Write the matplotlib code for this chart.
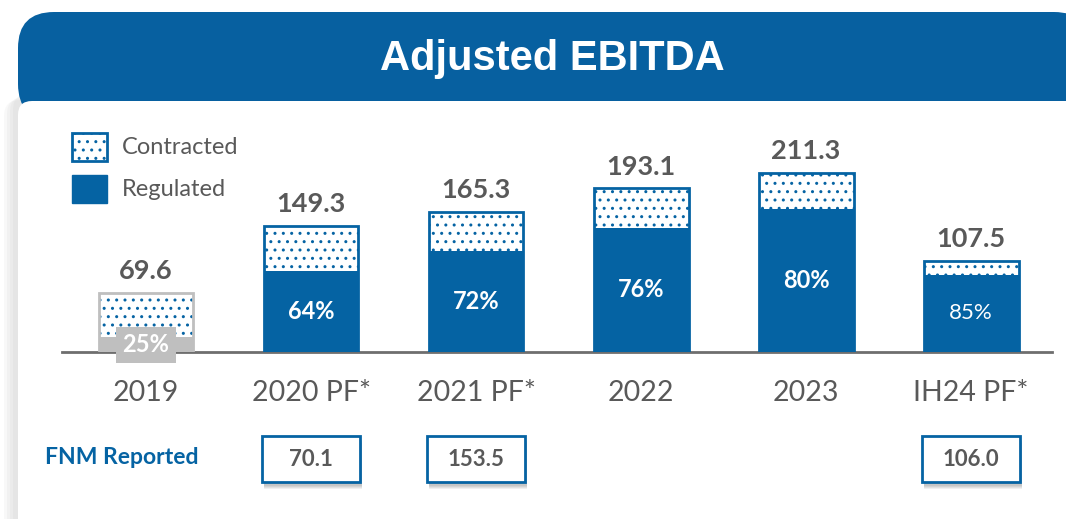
import matplotlib
matplotlib.use("Agg")
import matplotlib.pyplot as plt
from matplotlib.patches import FancyBboxPatch, Rectangle
import matplotlib.transforms as mtransforms

categories = ["2019", "2020 PF*", "2021 PF*", "2022", "2023", "IH24 PF*"]
totals = [69.6, 149.3, 165.3, 193.1, 211.3, 107.5]
regulated_pct = [25, 64, 72, 76, 80, 85]
fnm_reported = {1: "70.1", 2: "153.5", 5: "106.0"}

BLUE = "#0563A3"
HEAD = "#0760A0"
GRAY_TXT = "#595959"
LGRAY = "#BFBFBF"
FONT = "Lato"

W, H = 1066, 519
fig = plt.figure(figsize=(W / 100, H / 100), dpi=100)
fig.patch.set_facecolor("white")
PXT = mtransforms.Affine2D().scale(1 / W, 1 / H) + fig.transFigure


def px(x, y):
    return x / W, 1 - y / H


def rbox(x0, y0, x1, y1, r, **kw):
    p = FancyBboxPatch((x0, H - y1), x1 - x0, y1 - y0,
                       boxstyle=f"round,pad=0,rounding_size={r}",
                       transform=PXT, **kw)
    fig.patches.append(p)
    return p


# card shadow
for i in range(4):
    rbox(4 + i * 3, 100 - i * 2, 1090, 535, 16, facecolor="#808080", edgecolor="none", alpha=0.05, zorder=0)
# header
rbox(18, 12, 1090, 120, 36, facecolor=HEAD, edgecolor="none", zorder=1)
# white card
rbox(18, 101, 1090, 535, 14, facecolor="white", edgecolor="none", zorder=2)

fig.text(*px(552, 59), "Adjusted EBITDA", color="white", fontsize=30, fontweight="bold",
         family="Liberation Sans", ha="center", va="center", zorder=3)

# chart axes
scale = 0.847  # px per unit
x_left, x_right = 62, 1052
base_y = 352
top_y = 110
ax = fig.add_axes([x_left / W, 1 - base_y / H, (x_right - x_left) / W, (base_y - top_y) / H])
ax.set_zorder(5)
ax.patch.set_visible(False)
ax.set_xlim(-0.509, 5.49)
ax.set_ylim(0, (base_y - top_y) / scale)
for s in ["top", "right", "left"]:
    ax.spines[s].set_visible(False)
ax.spines["bottom"].set_color("#6E6E6E")
ax.spines["bottom"].set_linewidth(2)
ax.spines["bottom"].set_zorder(1)
ax.set_yticks([])
ax.set_xticks(range(len(categories)))
ax.set_xticklabels(categories, fontsize=20.5, color=GRAY_TXT, family=FONT)
ax.tick_params(axis="x", length=0, pad=20)

bw = 0.575
for i, (tot, pct) in enumerate(zip(totals, regulated_pct)):
    reg = tot * pct / 100
    con = tot - reg
    first = i == 0
    fill = LGRAY if first else BLUE
    edge = LGRAY if first else BLUE
    ax.bar(i, reg, bw, color=fill, edgecolor="none", zorder=3)
    ax.bar(i, con, bw, bottom=reg, color="white", edgecolor=BLUE, hatch="..", linewidth=0, zorder=3)
    ax.bar(i, tot, bw, color="none", edgecolor=edge, linewidth=2, zorder=4)
    ax.annotate(f"{tot:.1f}", (i, tot), xytext=(0, 7), textcoords="offset points",
                ha="center", va="bottom", fontsize=19.5, fontweight="bold", color=GRAY_TXT, family=FONT)
    if first:
        ax.text(i, reg / 2, f"{pct}%", ha="center", va="center", fontsize=17, fontweight="bold",
                color="white", family=FONT, zorder=8, clip_on=False,
                bbox=dict(boxstyle="square,pad=0.28", facecolor=LGRAY, edgecolor="none"))
    elif i == 5:
        ax.text(i, reg / 2, f"{pct}%", ha="center", va="center", fontsize=16,
                color="white", family=FONT, zorder=6)
    else:
        ax.text(i, reg / 2, f"{pct}%", ha="center", va="center", fontsize=17,
                fontweight="bold", color="white", family=FONT, zorder=6)

# legend
r1 = Rectangle((72, H - 161), 35, 28, facecolor="white", edgecolor=BLUE, hatch="..", linewidth=2,
               transform=PXT, zorder=6)
r2 = Rectangle((72, H - 203), 35, 28, facecolor=BLUE, edgecolor=BLUE, linewidth=1,
               transform=PXT, zorder=6)
fig.patches.extend([r1, r2])
fig.text(*px(122, 148), "Contracted", fontsize=17, color=GRAY_TXT, family=FONT, va="center", zorder=6)
fig.text(*px(122, 190), "Regulated", fontsize=17, color=GRAY_TXT, family=FONT, va="center", zorder=6)

# FNM reported
fig.text(*px(45, 458), "FNM Reported", fontsize=16.5, fontweight="bold", color=BLUE, family=FONT,
         va="center", zorder=6)
blend = mtransforms.blended_transform_factory(ax.transData, fig.transFigure)
bxw = 0.59
bh = 46 / H
by = 1 - 482 / H
for i, val in fnm_reported.items():
    for k in range(4):
        sh = Rectangle((i - bxw / 2 + 0.012, by - (4 + k) / H), bxw, bh, facecolor="#000000",
                       edgecolor="none", alpha=0.06, transform=blend, zorder=5, clip_on=False)
        fig.patches.append(sh)
    rect = Rectangle((i - bxw / 2, by), bxw, bh, facecolor="white", edgecolor=BLUE, linewidth=2,
                     transform=blend, zorder=6, clip_on=False)
    fig.patches.append(rect)
    fig.text(i, by + bh / 2, val, transform=blend, ha="center", va="center", fontsize=16,
             fontweight="bold", color=GRAY_TXT, family=FONT, zorder=7)

fig.savefig("out.png", dpi=100, facecolor="white")
